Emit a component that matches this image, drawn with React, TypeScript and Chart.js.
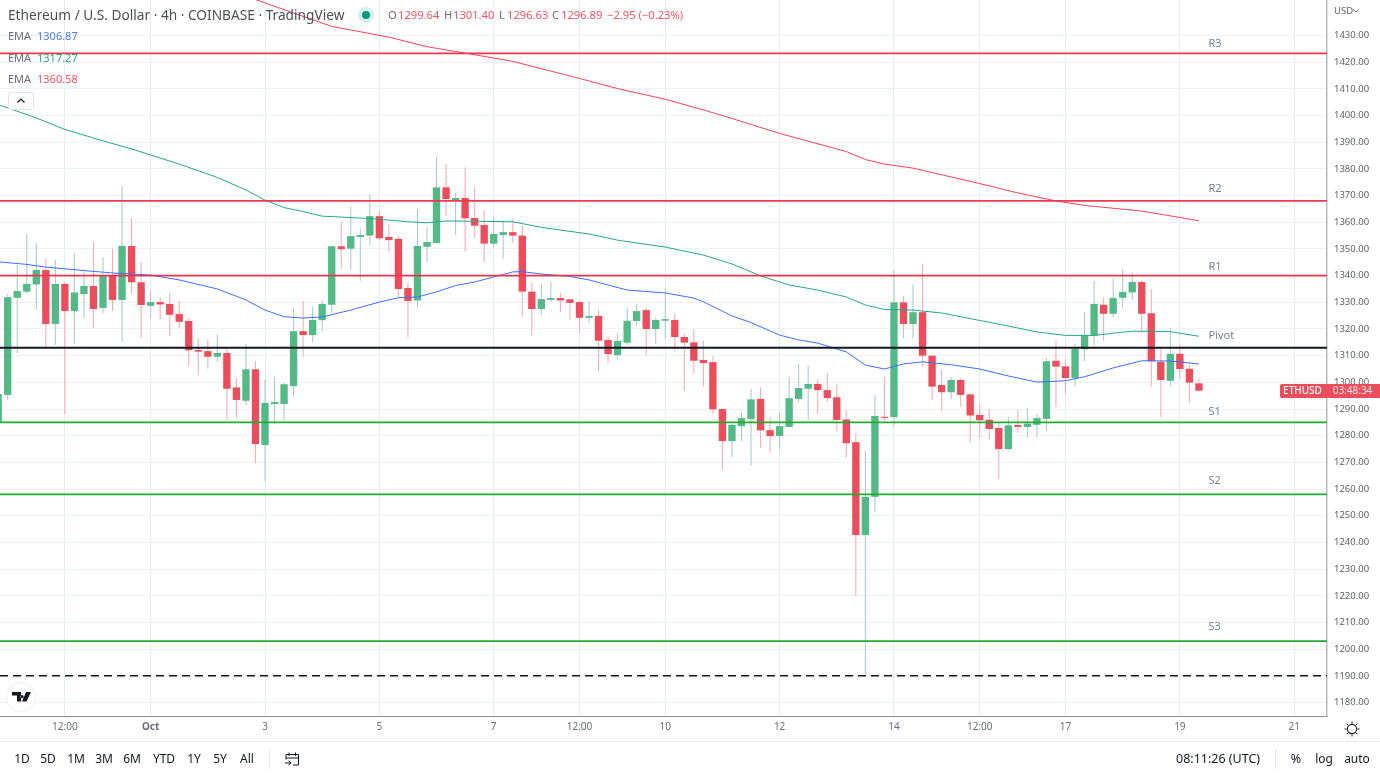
import React, { useEffect, useRef } from "react";
import { Chart, registerables } from "chart.js";

Chart.register(...registerables);

const opens = [1285.1,1295.3,1331.7,1334.0,1336.7,1342.1,1321.9,1336.9,1326.7,1333.1,1336.1,1327.9,1340.1,1330.9,1351.1,1337.5,1328.7,1330.1,1329.4,1325.6,1323.0,1312.1,1311.7,1309.6,1311.0,1298.1,1293.1,1304.9,1276.5,1291.9,1291.9,1298.6,1319.2,1317.7,1323.3,1329.1,1351.0,1350.1,1354.5,1355.0,1362.3,1354.5,1353.8,1335.4,1330.7,1350.8,1352.2,1373.1,1368.3,1369.1,1361.6,1359.0,1352.0,1355.2,1356.3,1355.0,1334.0,1327.5,1330.9,1331.6,1331.1,1330.1,1324.2,1324.9,1315.9,1310.2,1314.9,1323.0,1327.1,1320.0,1323.1,1323.4,1317.0,1315.0,1308.4,1307.6,1290.0,1278.0,1283.6,1286.3,1293.8,1282.1,1279.9,1283.3,1293.8,1297.6,1299.4,1297.1,1294.4,1286.1,1277.6,1242.8,1257.1,1287.1,1287.0,1330.0,1321.9,1326.3,1310.0,1299.0,1296.3,1300.9,1295.5,1287.8,1286.0,1282.9,1275.0,1284.0,1283.3,1284.1,1286.3,1308.1,1306.0,1301.6,1312.4,1317.5,1329.1,1325.7,1331.7,1333.7,1337.6,1325.9,1307.7,1300.6,1310.7,1305.1,1299.64];
const highs = [1297.1,1333.1,1344.0,1355.6,1352.1,1346.2,1345.9,1337.6,1348.5,1341.5,1352.6,1347.0,1350.1,1373.6,1361.6,1345.0,1334.2,1331.9,1333.7,1330.5,1324.2,1316.5,1316.2,1318.1,1313.0,1301.5,1314.4,1307.9,1301.1,1302.1,1299.9,1327.9,1330.5,1328.3,1330.9,1351.1,1360.2,1365.7,1357.8,1370.6,1364.6,1359.3,1354.8,1337.5,1365.0,1358.2,1384.6,1381.8,1371.1,1380.6,1373.3,1364.6,1362.3,1360.2,1361.2,1359.0,1337.2,1336.9,1337.7,1333.7,1331.2,1330.6,1330.5,1327.1,1317.1,1318.4,1328.1,1329.4,1328.1,1324.1,1335.4,1325.6,1318.1,1320.0,1315.5,1309.9,1290.0,1284.4,1288.9,1297.6,1298.1,1287.1,1289.0,1302.1,1306.9,1306.1,1301.3,1303.5,1299.4,1289.6,1281.0,1274.3,1295.3,1302.1,1342.1,1332.4,1336.7,1344.4,1310.0,1304.6,1302.1,1301.5,1295.6,1291.9,1290.0,1284.8,1287.1,1289.6,1290.3,1288.1,1309.0,1315.6,1308.7,1314.6,1326.3,1338.0,1331.9,1338.7,1342.4,1341.2,1338.4,1335.0,1313.1,1320.3,1314.0,1306.5,1301.40];
const lows = [1284.0,1293.4,1311.0,1333.1,1327.1,1313.2,1314.0,1288.1,1314.7,1324.2,1320.4,1325.9,1326.7,1315.2,1333.1,1316.7,1324.0,1323.6,1317.5,1320.3,1305.9,1302.7,1305.1,1307.7,1285.9,1286.7,1291.5,1269.9,1262.8,1284.3,1285.9,1294.6,1309.6,1314.9,1319.0,1326.0,1342.4,1342.1,1338.1,1351.5,1353.3,1349.0,1331.7,1316.7,1328.1,1345.1,1352.2,1362.3,1355.2,1349.0,1354.2,1345.1,1350.6,1346.3,1352.3,1324.6,1317.5,1325.2,1330.2,1326.4,1323.4,1318.4,1322.4,1304.0,1307.2,1308.7,1314.0,1321.2,1310.0,1314.4,1316.6,1312.1,1296.8,1303.4,1298.4,1288.0,1267.1,1272.1,1278.0,1268.8,1275.5,1273.6,1275.0,1283.3,1292.6,1285.9,1288.1,1292.7,1281.9,1271.8,1219.9,1190.7,1251.5,1285.5,1283.4,1316.6,1316.5,1305.9,1293.6,1289.4,1293.6,1290.9,1277.4,1279.0,1278.8,1263.8,1274.6,1281.1,1279.3,1279.6,1281.8,1290.9,1295.5,1298.6,1308.0,1314.0,1315.6,1324.4,1328.0,1330.9,1319.0,1298.4,1286.9,1298.6,1301.3,1292.4,1296.63];
const closes = [1295.6,1331.9,1334.2,1336.9,1342.1,1321.9,1336.9,1326.7,1333.7,1336.1,1327.5,1340.1,1330.9,1351.1,1337.5,1329.0,1330.1,1329.2,1325.3,1322.7,1312.0,1311.5,1309.6,1311.0,1297.6,1293.4,1304.9,1276.9,1292.3,1292.6,1299.3,1319.2,1317.7,1323.4,1329.4,1351.0,1349.9,1354.8,1355.2,1362.3,1354.0,1353.3,1335.0,1330.5,1351.1,1352.6,1373.1,1368.7,1369.1,1361.5,1358.7,1352.0,1355.6,1356.3,1355.0,1334.0,1327.5,1331.2,1331.6,1330.7,1329.8,1324.2,1324.9,1315.6,1310.6,1315.5,1323.1,1326.7,1320.0,1323.4,1323.7,1317.0,1314.9,1308.1,1307.2,1289.9,1278.0,1284.1,1286.6,1293.6,1282.0,1279.9,1283.6,1294.1,1297.9,1299.4,1297.1,1294.1,1285.9,1277.2,1242.8,1257.1,1287.4,1286.7,1330.0,1321.9,1326.3,1310.0,1298.4,1296.3,1300.9,1295.3,1287.6,1285.8,1282.5,1275.0,1283.9,1283.3,1284.5,1286.6,1307.9,1305.9,1301.6,1312.5,1317.7,1329.4,1325.7,1331.6,1333.9,1337.6,1325.7,1307.9,1300.9,1310.7,1305.0,1299.9,1296.89];

const emaBlueIdx = [0,3,5,9,12,16,19,23,26,28,30,32,34,37,40,42,44,46,48,50,52,54,55,57,60,62,66,70,73,74,77,79,82,84,86,89,91,93,95,97,100,103,106,109,112,114,117,120,123,126];
const emaBlueVal = [1345.2,1344.2,1343.2,1341.9,1341.0,1340.2,1338.4,1335.0,1330.9,1327.1,1324.6,1324.1,1324.5,1327.1,1330.1,1331.7,1332.0,1333.9,1336.3,1337.6,1339.5,1341.4,1341.5,1340.6,1339.7,1338.4,1334.6,1333.5,1331.6,1330.2,1324.9,1322.4,1317.7,1315.9,1314.7,1311.4,1306.5,1305.0,1306.9,1307.7,1306.6,1305.0,1302.4,1300.1,1300.6,1302.1,1305.4,1308.1,1308.0,1306.87];
const emaTealIdx = [0,4,7,11,14,16,19,23,26,28,30,32,34,39,43,45,47,54,57,62,65,70,74,77,80,83,86,89,91,93,96,99,103,106,109,112,115,119,123,126];
const emaTealVal = [1404.1,1399.1,1394.8,1390.5,1387.5,1385.2,1381.8,1376.8,1372.1,1368.3,1365.5,1364.0,1362.3,1361.4,1360.2,1359.8,1360.5,1360.2,1358.1,1355.6,1353.3,1350.7,1347.7,1344.4,1339.9,1336.5,1334.6,1332.0,1329.0,1327.3,1327.1,1326.0,1323.2,1321.1,1318.9,1317.6,1317.6,1319.2,1319.0,1317.27];
const emaRedIdx = [27,31,35,41,45,49,54,61,65,70,74,77,82,89,91,93,96,103,107,111,114,120,126];
const emaRedVal = [1443.5,1438.4,1433.4,1429.4,1425.8,1423.4,1420.3,1413.9,1410.1,1406.1,1402.1,1398.9,1393.3,1386.5,1383.5,1381.8,1380.3,1374.5,1371.0,1368.0,1366.3,1364.2,1360.58];

const redLevels = [1423.3, 1368, 1340];
const greenLevels = [1285, 1258, 1203];
const pivotLevel = 1313;
const dashedLevel = 1190;
const levelNames = ["R3", "R2", "R1", "Pivot", "S1", "S2", "S3"];
const levelLabelPrices = [1426.9, 1372.5, 1343.3, 1317.4, 1289.0, 1263.1, 1208.4];

const timeTickIdx = [7, 16, 28, 40, 52, 61, 70, 82, 94, 103, 112, 124, 136];
const timeTickLabels = ["12:00", "Oct", "3", "5", "7", "12:00", "10", "12", "14", "12:00", "17", "19", "21"];
const rangeButtons = ["1D", "5D", "1M", "3M", "6M", "YTD", "1Y", "5Y", "All"];
const rangeCenters = [22, 48, 76, 104, 132, 164, 194, 220, 247];
const legendNames = ["EMA", "EMA", "EMA"];
const legendValues = ["1306.87", "1317.27", "1360.58"];

const UP = "#53b987";
const DOWN = "#eb4d5c";
const UP_WICK = "#a9c8cd";
const DOWN_WICK = "#f6aab3";
const FONT = '"Noto Sans", sans-serif';
const X_MIN = 0.192;
const X_MAX = 139.44;

const pairs = (xs: number[], ys: number[]) => xs.map((x, i) => ({ x, y: ys[i] }));
const flat = (v: number) => [{ x: X_MIN, y: v }, { x: X_MAX, y: v }];

const levelLabelPlugin = {
  id: "levelLabels",
  afterDatasetsDraw(chart: any) {
    const { ctx, scales } = chart;
    ctx.save();
    ctx.font = `11px ${FONT}`;
    ctx.fillStyle = "#76808f";
    ctx.textBaseline = "middle";
    levelNames.forEach((name, i) => {
      ctx.fillText(name, scales.x.getPixelForValue(127), scales.y.getPixelForValue(levelLabelPrices[i]));
    });
    ctx.restore();
  },
};

function T({ x, y, children, color = "#131722", size = 12, w = 400, center = false, extra = {} }: any) {
  return (
    <div
      style={{
        position: "absolute",
        left: x,
        top: y - 10,
        height: 20,
        lineHeight: "20px",
        fontSize: size,
        fontWeight: w,
        color,
        whiteSpace: "nowrap",
        transform: center ? "translateX(-50%)" : undefined,
        ...extra,
      }}
    >
      {children}
    </div>
  );
}

const zeroPad = (s: any) => {
  s.paddingTop = 0;
  s.paddingBottom = 0;
  s.paddingLeft = 0;
  s.paddingRight = 0;
};

export default function App() {
  const ref = useRef<HTMLCanvasElement>(null);
  useEffect(() => {
    const idx = opens.map((_, i) => i);
    const isUp = (i: number) => closes[i] >= opens[i];
    const line = (data: any[], color: string, width: number, extra: any = {}) => ({
      type: "line",
      data,
      borderColor: color,
      borderWidth: width,
      pointRadius: 0,
      tension: 0,
      fill: false,
      order: 0,
      ...extra,
    });
    const chart = new Chart(ref.current as HTMLCanvasElement, {
      type: "bar",
      data: {
        datasets: [
          ...redLevels.map((v) => line(flat(v), "#f0374f", 1.7)),
          ...greenLevels.map((v) => line(flat(v), "#22ab33", 1.7)),
          line(flat(pivotLevel), "#131722", 2),
          line(flat(dashedLevel), "#131722", 1.5, { borderDash: [8, 5] }),
          line(pairs(emaBlueIdx, emaBlueVal), "#3d6dff", 1),
          line(pairs(emaTealIdx, emaTealVal), "#26a68a", 1),
          line(pairs(emaRedIdx, emaRedVal), "#f2435a", 1),
          {
            type: "bar",
            data: idx.map((i) => ({ x: i, y: [opens[i], closes[i]] })),
            backgroundColor: idx.map((i) => (isUp(i) ? UP : DOWN)),
            grouped: false,
            barPercentage: 0.77,
            categoryPercentage: 1,
            borderSkipped: false,
            order: 1,
          },
          {
            type: "bar",
            data: idx.map((i) => ({ x: i, y: [lows[i], highs[i]] })),
            backgroundColor: idx.map((i) => (isUp(i) ? UP_WICK : DOWN_WICK)),
            grouped: false,
            barPercentage: 0.11,
            categoryPercentage: 1,
            borderSkipped: false,
            order: 2,
          },
        ] as any,
      },
      plugins: [levelLabelPlugin as any],
      options: {
        animation: false,
        responsive: false,
        layout: { padding: 0 },
        plugins: { legend: { display: false }, tooltip: { enabled: false }, title: { display: false } },
        events: [],
        scales: {
          x: {
            type: "linear",
            min: X_MIN,
            max: X_MAX,
            offset: false,
            afterBuildTicks: (s: any) => {
              s.ticks = timeTickIdx.map((value) => ({ value }));
            },
            afterFit: (s: any) => {
              s.height = 25;
              zeroPad(s);
            },
            grid: { color: "#e6eef5", lineWidth: 1, offset: false, drawTicks: false },
            border: { color: "#8a8c92", width: 1 },
            ticks: {
              autoSkip: false,
              maxRotation: 0,
              padding: 5,
              color: "#6a6d78",
              font: (c: any) => ({
                family: FONT,
                size: 10,
                weight: timeTickLabels[c.index] === "Oct" ? "bold" : "normal",
              }),
              callback: (v: any) => timeTickLabels[timeTickIdx.indexOf(v)] ?? "",
            },
          },
          y: {
            type: "linear",
            position: "right",
            min: 1174.96,
            max: 1443.3,
            beginAtZero: false,
            afterFit: (s: any) => {
              s.width = 53;
              zeroPad(s);
            },
            grid: { color: "#eef2f6", lineWidth: 1, drawTicks: false },
            border: { color: "#b9bbc0", width: 1.5 },
            ticks: {
              stepSize: 10,
              includeBounds: false,
              padding: 7,
              color: "#5f626c",
              font: { family: FONT, size: 9.5 },
              callback: (v: any) => (v >= 1440 ? null : Number(v).toFixed(2)),
            },
          },
        },
      } as any,
    });
    return () => chart.destroy();
  }, []);

  const red = "#f7525f";
  const ohlc: [string, string, number, number][] = [
    ["O", "1299.64", 388, 398],
    ["H", "1301.40", 444, 453],
    ["L", "1296.63", 499, 507],
    ["C", "1296.89", 552, 561],
  ];
  const legendColors = ["#4a78ff", "#2aa78e", "#f7525f"];
  const legendYs = [36, 58, 79];

  return (
    <div style={{ position: "fixed", left: 0, top: 0, width: 1380, height: 776, background: "#fff", overflow: "hidden", fontFamily: FONT }}>
      <canvas ref={ref} width={1380} height={741} style={{ position: "absolute", left: 0, top: 0, width: 1380, height: 741 }} />

      <T x={8} y={15} color="#4d4f57" size={13.7}>Ethereum / U.S. Dollar · 4h · COINBASE · TradingView</T>
      <div style={{ position: "absolute", left: 358, top: 7, width: 16, height: 16, borderRadius: 8, background: "#d9efea" }} />
      <div style={{ position: "absolute", left: 362, top: 11, width: 8, height: 8, borderRadius: 4, background: "#089981" }} />
      {ohlc.map(([k, v, kx, vx]) => (
        <React.Fragment key={k}>
          <T x={kx} y={15} color="#6a6d78" size={11.2}>{k}</T>
          <T x={vx} y={15} color={red} size={11.2}>{v}</T>
        </React.Fragment>
      ))}
      <T x={607} y={15} color={red} size={11.2}>−2.95 (−0.23%)</T>
      {legendNames.map((n, i) => (
        <React.Fragment key={i}>
          <T x={8} y={legendYs[i]} color="#6a6d78" size={11}>{n}</T>
          <T x={37} y={legendYs[i]} color={legendColors[i]} size={11}>{legendValues[i]}</T>
        </React.Fragment>
      ))}
      <div style={{ position: "absolute", left: 8, top: 92, width: 26, height: 18, boxSizing: "border-box", border: "1px solid #e0e3eb", borderRadius: 3, background: "#fff" }}>
        <svg width="24" height="16" style={{ display: "block" }}>
          <path d="M8.5 9.5 L12 6 L15.5 9.5" fill="none" stroke="#131722" strokeWidth="1.2" />
        </svg>
      </div>
      <div style={{ position: "absolute", left: 6, top: 682, width: 30, height: 30, boxSizing: "border-box", borderRadius: 15, border: "1px solid #eceef2", background: "#fff" }}>
        <svg width="28" height="28" style={{ display: "block" }}>
          <path d="M5 9 H14 V18.5 H10 V12.5 H5 Z M15 12 a1.6 1.6 0 1 0 0.01 0 Z M19 9 H24 L19.5 18.5 H15 Z" fill="#131722" />
        </svg>
      </div>

      <T x={1334} y={11} color="#5f626c" size={9.5}>USD</T>
      <svg width="8" height="6" style={{ position: "absolute", left: 1352, top: 8 }}>
        <path d="M1 1.5 L4 4 L7 1.5" fill="none" stroke="#5f626c" strokeWidth="1" />
      </svg>

      <div style={{ position: "absolute", left: 1280, top: 384, width: 45, height: 13.5, background: DOWN, borderRadius: "2px 0 0 2px", color: "#fff", fontSize: 10, lineHeight: "13.5px", textAlign: "center", fontWeight: 500 }}>ETHUSD</div>
      <div style={{ position: "absolute", left: 1325, top: 384, width: 55, height: 13.5, background: DOWN, color: "#ffe3e6", fontSize: 10, lineHeight: "13.5px", textAlign: "center" }}>03:48:34</div>

      <svg width="18" height="18" style={{ position: "absolute", left: 1343, top: 720 }}>
        <circle cx="9" cy="9" r="4.6" fill="none" stroke="#131722" strokeWidth="1.1" />
        <path d="M9 1.5V3.6M9 14.4V16.5M1.5 9H3.6M14.4 9H16.5M3.8 3.8L5.2 5.2M12.8 12.8L14.2 14.2M3.8 14.2L5.2 12.8M12.8 5.2L14.2 3.8" stroke="#131722" strokeWidth="1" />
      </svg>

      <div style={{ position: "absolute", left: 0, top: 741, width: 1380, height: 1, background: "#e6e8ee" }} />
      <div style={{ position: "absolute", left: 269, top: 749, width: 1, height: 20, background: "#e6e8ee" }} />
      <div style={{ position: "absolute", left: 1275, top: 749, width: 1, height: 20, background: "#e6e8ee" }} />
      {rangeButtons.map((b, i) => (
        <T key={b} x={rangeCenters[i]} y={759} size={12} center>{b}</T>
      ))}
      <svg width="18" height="18" style={{ position: "absolute", left: 284, top: 750 }}>
        <path d="M2 4.5 H14.5 V15 H9 M2 4.5 V9.5 M2 8 H14.5 M5 2.5 V6 M11.5 2.5 V6 M1 13 H6.5 M4.5 10.8 L7 13 L4.5 15.2" fill="none" stroke="#131722" strokeWidth="1" />
      </svg>
      <T x={1176} y={759} size={12.5}>08:11:26 (UTC)</T>
      <T x={1296} y={759} size={12.5} center>%</T>
      <T x={1324} y={759} size={12} center>log</T>
      <T x={1357} y={759} size={12} center>auto</T>
    </div>
  );
}
